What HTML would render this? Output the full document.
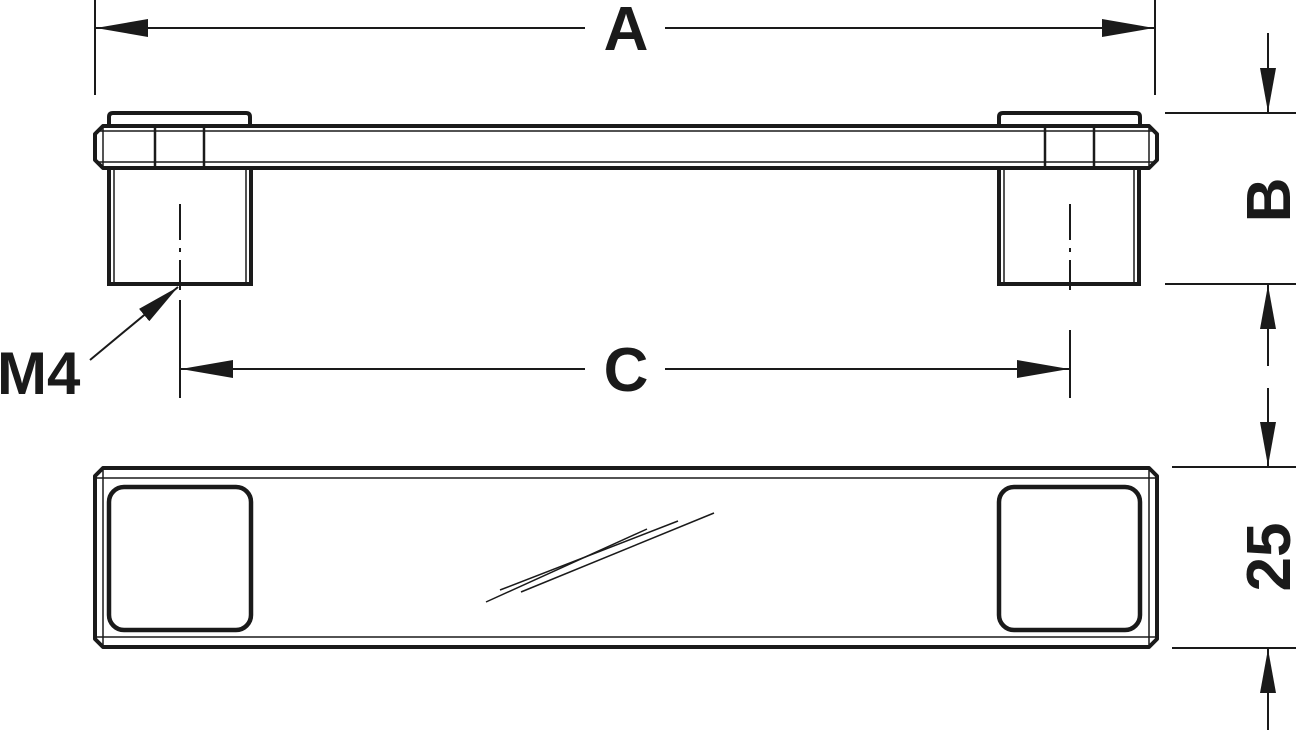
<!DOCTYPE html>
<html><head><meta charset="utf-8"><style>
html,body{margin:0;padding:0;background:#fff;}
svg{display:block}
text{font-family:"Liberation Sans",sans-serif;font-weight:bold;fill:#1a1a1a}
</style></head><body>
<svg width="1296" height="730" viewBox="0 0 1296 730" xmlns="http://www.w3.org/2000/svg">
<defs>
<marker id="ar" viewBox="0 0 52 18" refX="52" refY="9" markerWidth="52" markerHeight="18" markerUnits="userSpaceOnUse" orient="auto">
<path d="M0,0 L52,9 L0,18 Z" fill="#1a1a1a"/></marker>
<marker id="ar2" viewBox="0 0 44 16" refX="44" refY="8" markerWidth="44" markerHeight="16" markerUnits="userSpaceOnUse" orient="auto">
<path d="M0,0 L44,8 L0,16 Z" fill="#1a1a1a"/></marker>
</defs>
<g stroke="#1a1a1a" fill="none">
<line x1="95" y1="0" x2="95" y2="95" stroke-width="2"/>
<line x1="1155" y1="0" x2="1155" y2="95" stroke-width="2"/>
<line x1="585" y1="28" x2="96" y2="28" stroke-width="2" marker-end="url(#ar)"/>
<line x1="665" y1="28" x2="1154" y2="28" stroke-width="2" marker-end="url(#ar)"/>

<path d="M103,126 L1149,126 L1157,134 L1157,160 L1149,168 L103,168 L95,160 L95,134 Z" stroke-width="4" stroke-linejoin="round"/>
<line x1="97" y1="131" x2="1155" y2="131" stroke-width="1.5"/>
<line x1="97" y1="162" x2="1155" y2="162" stroke-width="1.5"/>
<line x1="103" y1="128" x2="103" y2="166" stroke-width="1.5"/>
<line x1="1149" y1="128" x2="1149" y2="166" stroke-width="1.5"/>
<path d="M109,126 L109,117 Q109,113 113,113 L246,113 Q250,113 250,117 L250,126" stroke-width="4"/>
<line x1="155" y1="126" x2="155" y2="168" stroke-width="2.5"/>
<line x1="204" y1="126" x2="204" y2="168" stroke-width="2.5"/>
<path d="M109,168 L109,284 L251,284 L251,168" stroke-width="4"/>
<line x1="114" y1="170" x2="114" y2="282" stroke-width="1.5"/>
<line x1="246" y1="170" x2="246" y2="282" stroke-width="1.5"/>
<path d="M999,126 L999,117 Q999,113 1003,113 L1136,113 Q1140,113 1140,117 L1140,126" stroke-width="4"/>
<line x1="1045" y1="126" x2="1045" y2="168" stroke-width="2.5"/>
<line x1="1094" y1="126" x2="1094" y2="168" stroke-width="2.5"/>
<path d="M999,168 L999,284 L1139,284 L1139,168" stroke-width="4"/>
<line x1="1004" y1="170" x2="1004" y2="282" stroke-width="1.5"/>
<line x1="1134" y1="170" x2="1134" y2="282" stroke-width="1.5"/>
<line x1="180" y1="204" x2="180" y2="290" stroke-width="2" stroke-dasharray="36,8,4,8"/>
<line x1="180" y1="300" x2="180" y2="398" stroke-width="2"/>
<line x1="1070" y1="204" x2="1070" y2="290" stroke-width="2" stroke-dasharray="36,8,4,8"/>
<line x1="1070" y1="330" x2="1070" y2="398" stroke-width="2"/>

<line x1="585" y1="369" x2="181" y2="369" stroke-width="2" marker-end="url(#ar)"/>
<line x1="665" y1="369" x2="1069" y2="369" stroke-width="2" marker-end="url(#ar)"/>
<line x1="90" y1="360" x2="178" y2="287" stroke-width="2" marker-end="url(#ar2)"/>

<line x1="1165" y1="113" x2="1296" y2="113" stroke-width="2"/>
<line x1="1165" y1="284" x2="1296" y2="284" stroke-width="2"/>
<line x1="1268" y1="33" x2="1268" y2="112" stroke-width="2" marker-end="url(#ar2)"/>
<line x1="1268" y1="366" x2="1268" y2="285" stroke-width="2" marker-end="url(#ar2)"/>
<line x1="1172" y1="467" x2="1296" y2="467" stroke-width="2"/>
<line x1="1172" y1="648" x2="1296" y2="648" stroke-width="2"/>
<line x1="1268" y1="388" x2="1268" y2="466" stroke-width="2" marker-end="url(#ar2)"/>
<line x1="1268" y1="730" x2="1268" y2="649" stroke-width="2" marker-end="url(#ar2)"/>

<path d="M103,468 L1149,468 L1157,476 L1157,639 L1149,647 L103,647 L95,639 L95,476 Z" stroke-width="4" stroke-linejoin="round"/>
<line x1="97" y1="478" x2="1155" y2="478" stroke-width="1.5"/>
<line x1="97" y1="637" x2="1155" y2="637" stroke-width="1.5"/>
<line x1="103" y1="470" x2="103" y2="645" stroke-width="1.5"/>
<line x1="1149" y1="470" x2="1149" y2="645" stroke-width="1.5"/>
<rect x="109" y="487" width="142" height="143" rx="15" stroke-width="4.5"/>
<rect x="999" y="487" width="141" height="143" rx="15" stroke-width="4.5"/>
<line x1="486" y1="602" x2="647" y2="529" stroke-width="1.5"/>
<line x1="500" y1="590" x2="678" y2="521" stroke-width="1.5"/>
<line x1="521" y1="592" x2="714" y2="513" stroke-width="1.5"/>
</g>
<text x="626" y="50" font-size="62" text-anchor="middle">A</text>
<text x="626" y="391" font-size="62" text-anchor="middle">C</text>
<text x="-3" y="394" font-size="60">M4</text>
<text transform="translate(1290,200) rotate(-90)" font-size="62" text-anchor="middle">B</text>
<text transform="translate(1290,557) rotate(-90)" font-size="62" text-anchor="middle">25</text>
</svg>
</body></html>
